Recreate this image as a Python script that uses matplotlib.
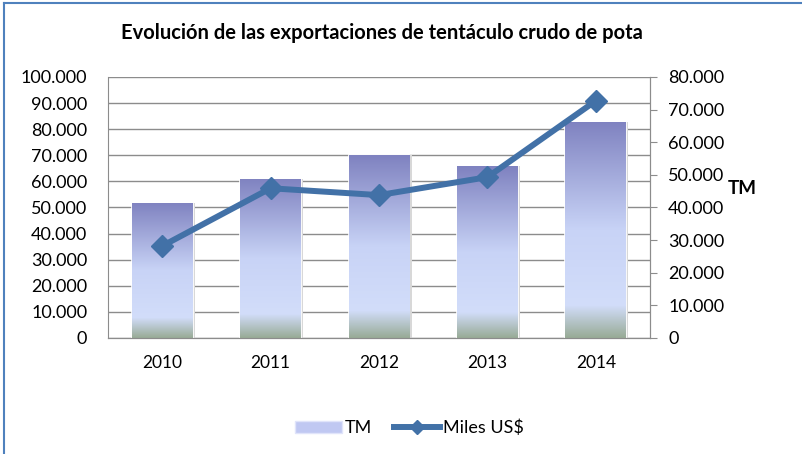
import matplotlib
matplotlib.use("Agg")
from matplotlib import pyplot as plt
from matplotlib.colors import LinearSegmentedColormap
from matplotlib.ticker import FuncFormatter, MultipleLocator
from matplotlib.lines import Line2D
from matplotlib.patches import Rectangle
import numpy as np

years = ["2010", "2011", "2012", "2013", "2014"]
tm = [51800, 61000, 70100, 65900, 82900]
miles_usd = [28200, 45900, 43800, 49300, 72700]

plt.rcParams['font.family'] = ['Lato', 'DejaVu Sans']

def miles(v, pos):
    return f"{int(round(v)):,}".replace(",", ".")

fig = plt.figure(figsize=(8.03, 4.54), dpi=100)
ax = fig.add_axes([108/803, 1-338/454, (650-108)/803, (338-77)/454])
ax2 = ax.twinx()

x = np.arange(len(years))
bars = ax.bar(x, tm, width=0.56, color='none', edgecolor='white', linewidth=1.2, zorder=3)

cmap = LinearSegmentedColormap.from_list('g', [
    (0.0, '#98ab96'), (0.15, '#d2ddfa'), (0.5, '#c8d3f6'), (1.0, '#7f82c0')])
grad = np.linspace(0, 1, 256).reshape(-1, 1)
for b in bars:
    x0, y0, w, h = b.get_x(), b.get_y(), b.get_width(), b.get_height()
    # soft shadow
    sh = Rectangle((x0 + 0.02, y0), w, h, facecolor='#d8d8d8', edgecolor='none', zorder=2)
    ax.add_patch(sh)
    im = ax.imshow(grad, extent=[x0, x0 + w, y0, y0 + h], origin='lower',
                   aspect='auto', cmap=cmap, zorder=3)
    im.set_clip_path(b)

ax.set_xlim(-0.5, 4.5)
ax.set_ylim(0, 100000)
ax.yaxis.set_major_locator(MultipleLocator(10000))
ax.yaxis.set_major_formatter(FuncFormatter(miles))
ax.grid(axis='y', color='#8c8c8c', linewidth=1)
ax.set_axisbelow(True)
ax.set_xticks(x)
ax.set_xticklabels(years)
ax.tick_params(axis='x', length=0, pad=12, labelsize=12.5)
ax.tick_params(axis='y', length=0, pad=15, labelsize=13)

ax2.plot(x, miles_usd, color='#4271a7', linewidth=4.3, marker='D', markersize=11.5,
         zorder=5)
ax2.set_ylim(0, 80000)
ax2.yaxis.set_major_locator(MultipleLocator(10000))
ax2.yaxis.set_major_formatter(FuncFormatter(miles))
ax2.tick_params(axis='y', length=5, color='#8c8c8c', pad=8, labelsize=13)
ax2.set_ylabel("TM", rotation=0, fontweight='bold', fontsize=13.5, labelpad=-2)
ax2.yaxis.set_label_coords(1.17, 0.605)
ax2.set_zorder(ax.get_zorder() + 1)
ax2.patch.set_visible(False)

for a in (ax, ax2):
    a.spines['top'].set_visible(False)
    for s in ('left', 'right', 'bottom'):
        a.spines[s].set_color('#8c8c8c')
ax2.spines['left'].set_visible(False)

fig.text(0.476, 1-33/454, "Evolución de las exportaciones de tentáculo crudo de pota",
         ha='center', va='center', fontsize=14.5, fontweight='bold')

handles = [Rectangle((0, 0), 1, 1, facecolor='#c0c8f2', edgecolor='#e0e4fa'),
           Line2D([], [], color='#4271a7', linewidth=4.3, marker='D', markersize=7)]
fig.legend(handles, ["TM", "Miles US$"], loc='center', bbox_to_anchor=(0.51, 1-428/454),
           ncol=2, frameon=False, fontsize=13, handlelength=2.6, columnspacing=1.2,
           handletextpad=0.15)

# outer frame (left and top edges visible)
fig.add_artist(Line2D([4/803, 4/803], [0, 1-3/454], color='#4f81bd', linewidth=1.5))
fig.add_artist(Line2D([4/803, 1], [1-3/454, 1-3/454], color='#4f81bd', linewidth=1.5))

fig.savefig("out.png", dpi=100)
